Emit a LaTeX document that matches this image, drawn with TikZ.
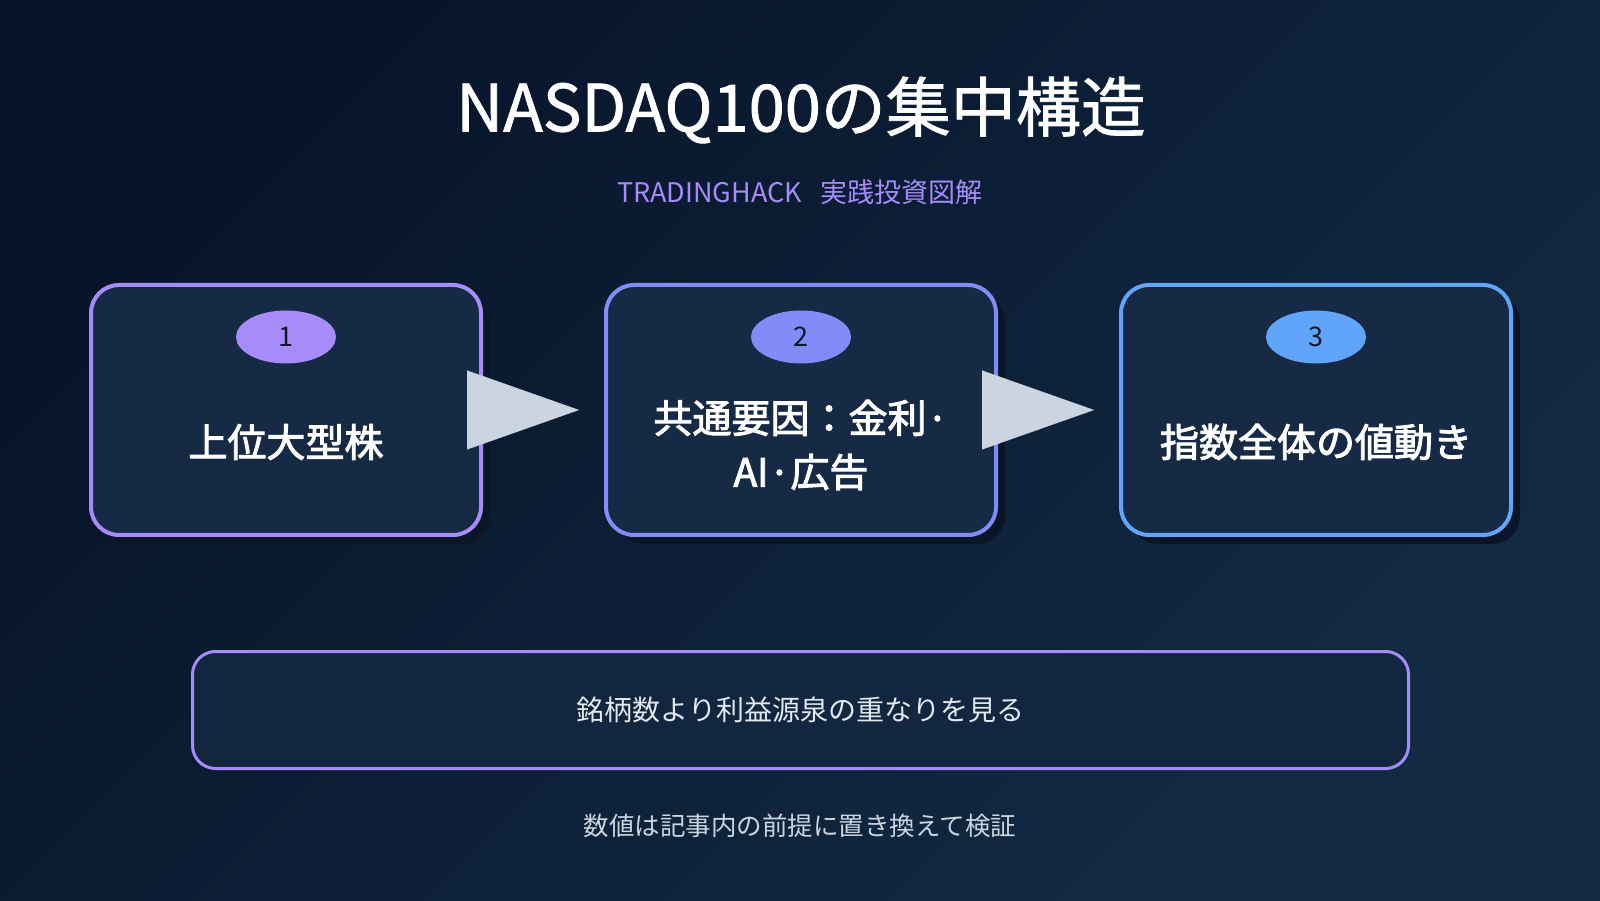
\documentclass[tikz,border=0pt]{standalone}
\usepackage{fontspec}
\setmainfont{Noto Sans CJK JP}
\newfontfamily\jpmid[FakeBold=2.5]{Noto Sans CJK JP}
\newfontfamily\jptitle[FakeBold=1.2]{Noto Sans CJK JP}
\usetikzlibrary{arrows.meta,shapes.geometric,shadows}
\definecolor{bgtop}{HTML}{07142A}
\definecolor{bgbot}{HTML}{122B43}
\definecolor{cardfill}{HTML}{172A45}
\definecolor{cardshadow}{HTML}{0A1526}
\definecolor{notefill}{HTML}{13263F}
\definecolor{violetline}{HTML}{A78BFA}
\definecolor{indigoline}{HTML}{818CF8}
\definecolor{blueline}{HTML}{60A5FA}
\definecolor{arrowgray}{HTML}{CBD5E1}
\definecolor{badgetext}{HTML}{0F172A}
\definecolor{softwhite}{HTML}{E2E8F0}

\begin{document}
\begin{tikzpicture}[x=0.5pt, y=0.5pt,
        every node/.style={inner sep=0pt, text=white},
        card/.style={draw=#1, fill=cardfill, line width=2pt, rounded corners=14pt,
            minimum width=195pt, minimum height=125pt,
            drop shadow={shadow xshift=4.5pt, shadow yshift=-4.5pt, fill=cardshadow, opacity=1}},
        badge/.style={ellipse, fill=#1, minimum width=50pt, minimum height=26.5pt,
            text=badgetext, font=\fontsize{13.5}{13.5}\selectfont},
        cardtext/.style={align=center, font=\fontsize{19.5}{27}\selectfont\jpmid},
        flow/.style={draw=arrowgray, line width=0.1pt, -{Triangle[length=56pt, width=39.5pt]}, shorten >=12.5pt}]
    \shade[top color=bgtop, bottom color=bgbot, shading angle=45] (0,0) rectangle (1600,900);
    \useasboundingbox (0,0) rectangle (1600,900);
    \coordinate (P1) at (286,490);
    \coordinate (P2) at (801,490);
    \coordinate (P3) at (1316,490);
    \node[font=\fontsize{32.5}{32.5}\selectfont\jptitle] (title) at (801,790) {NASDAQ100の集中構造};
    \node[text=violetline, font=\fontsize{13.5}{13.5}\selectfont] (sub) at (800,708) {TRADINGHACK\hspace{0.7em}実践投資図解};
    \node[card=violetline] (S1) at (P1) {};
    \node[card=indigoline] (S2) at (P2) {};
    \node[card=blueline] (S3) at (P3) {};
    \node[badge=violetline] (N1) at (286,563) {1};
    \node[badge=indigoline] (N2) at (801,563) {2};
    \node[badge=blueline] (N3) at (1316,563) {3};
    \node[cardtext] (L1) at (286,458) {上位大型株};
    \node[cardtext] (L2) at (801,455) {共通要因：金利·\\AI·広告};
    \node[cardtext] (L3) at (1316,458) {指数全体の値動き};
    \draw[flow] (S1.east) -- (S2.west);
    \draw[flow] (S2.east) -- (S3.west);
    \node[draw=violetline, fill=notefill, line width=1.5pt, rounded corners=11.5pt,
        minimum width=608pt, minimum height=58.5pt, text=softwhite,
        font=\fontsize{14}{14}\selectfont] (note) at (800.5,190) {銘柄数より利益源泉の重なりを見る};
    \node[text=arrowgray, font=\fontsize{12.75}{12.75}\selectfont] (foot) at (800,74) {数値は記事内の前提に置き換えて検証};
\end{tikzpicture}
\end{document}
